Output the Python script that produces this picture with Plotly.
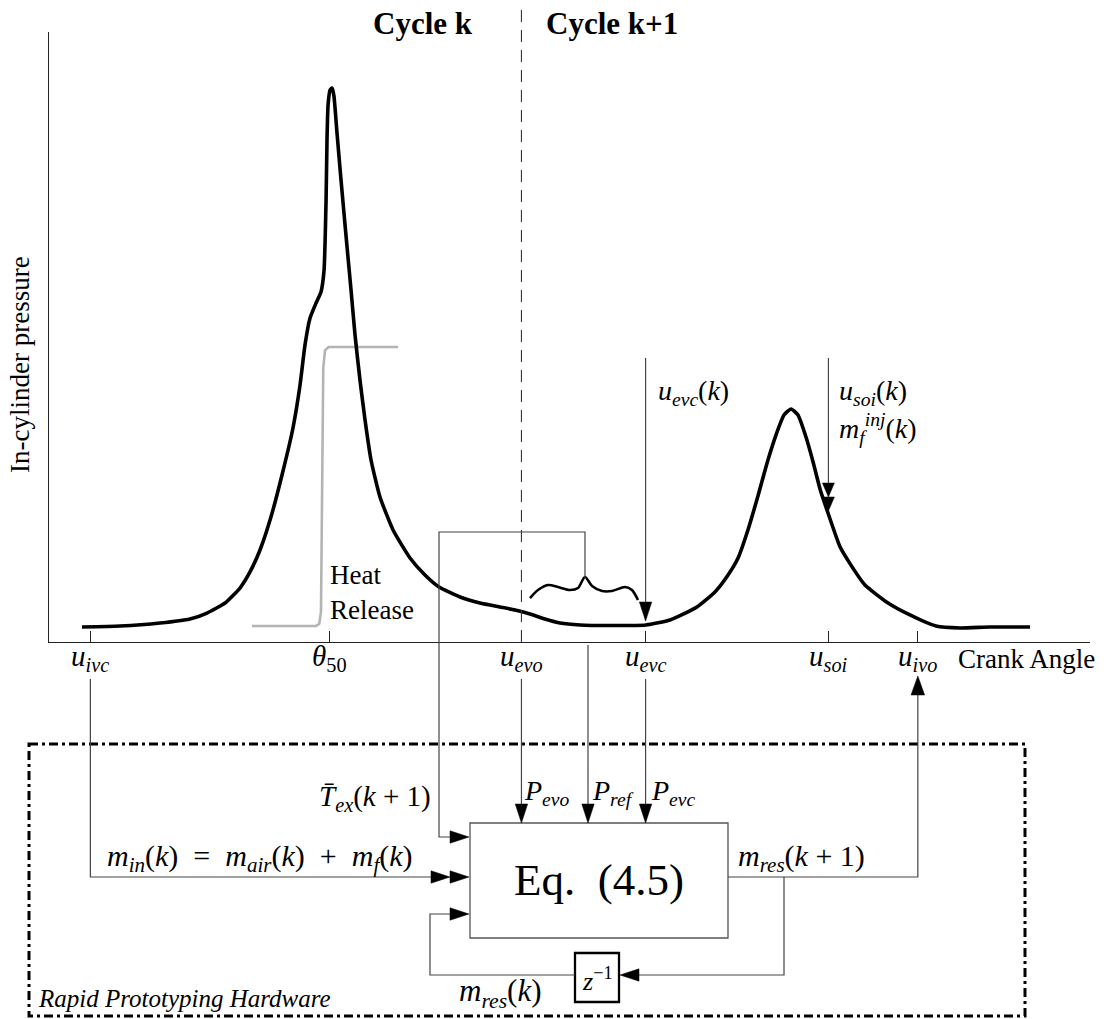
import plotly.graph_objects as go

# ---------------- data ----------------
# In-cylinder pressure trace (crank angle in deg, pressure in % of axis height)
crank_angle = [-175.3, -146.8, -116.8, -94.4, -81.6, -68.1, -56.9, -49.4, -41.9, -33.7,
               -25.4, -17.2, -11.9, -8.2, -4.4, 0.1, 3.8, 6.1, 7.6, 8.3,
               9.1, 10.6, 12.1, 13.5, 15.8, 18.8, 22.5, 26.3, 29.3, 33.0,
               36.8, 41.3, 48.0, 57.8, 70.5, 81.7, 92.2, 108.0, 122.9, 137.9,
               149.2, 160.4, 171.6, 182.9, 197.9, 220.4, 247.3, 265.3, 285.5, 299.0,
               308.8, 316.3, 323.7, 331.2, 338.7, 344.7, 350.7, 356.0, 361.2, 367.2,
               372.5, 377.8, 384.4, 392.7, 400.9, 411.4, 428.7, 445.1, 464.6, 482.6,
               505.1, 535.1]
pressure = [2.46, 2.62, 3.11, 3.77, 4.75, 6.39, 8.85, 11.48, 15.08, 20.49,
            27.38, 35.08, 42.13, 48.69, 53.11, 55.57, 57.38, 60.98, 72.46, 82.30,
            88.03, 90.49, 90.82, 89.51, 83.44, 75.74, 66.72, 57.70, 50.33, 42.95,
            36.39, 29.84, 23.77, 18.36, 13.77, 10.98, 9.02, 7.38, 6.39, 5.74,
            5.25, 4.59, 3.77, 3.11, 2.79, 2.70, 2.79, 3.61, 5.74, 8.20,
            10.98, 13.77, 18.36, 23.93, 29.84, 33.93, 37.21, 38.20, 37.21, 33.60,
            29.50, 25.00, 20.70, 15.60, 12.60, 9.34, 6.39, 4.43, 2.62, 2.30,
            2.46, 2.46]

# Heat release (grey S-curve), same axes
heat_ca = [-47.9, 0.0, 2.5, 3.8, 5.5, 6.8, 9.5, 61.5]
heat_release = [2.62, 2.62, 3.0, 5.0, 45.0, 47.8, 48.36, 48.36]

# Small brace-like curve over the exhaust phase
brace_ca = [160.4, 166.4, 173.9, 181.4, 190.4, 196.4, 201.6, 206.9, 214.4, 221.8, 231.6, 236.8, 241.3]
brace_p = [7.21, 8.52, 9.34, 9.02, 8.52, 8.85, 10.66, 9.18, 8.36, 8.36, 9.02, 8.52, 6.89]

# Crank-angle events (tick positions) and their labels
tick_ca = [-169, 10, 154, 247, 384, 451]
tick_labels = ["<i>u<sub>ivc</sub></i>", "<i>θ</i><sub>50</sub>", "<i>u<sub>evo</sub></i>",
               "<i>u<sub>evc</sub></i>", "<i>u<sub>soi</sub></i>", "<i>u<sub>ivo</sub></i>"]

CA_RANGE = [-200, 580]
P_RANGE = [0, 100]

# ---------------- layout geometry ----------------
W, H = 1117, 1019
PLOT_L, PLOT_R, PLOT_T, PLOT_B = 49, 1090, 32, 642
FONT = "'Liberation Serif', 'DejaVu Serif', 'Times New Roman', Times, serif"
LINE = "#444444"
SP = "&nbsp;"


def ca_px(ca):
    return PLOT_L + (ca - CA_RANGE[0]) * (PLOT_R - PLOT_L) / (CA_RANGE[1] - CA_RANGE[0])


fig = go.Figure()

fig.add_trace(go.Scatter(x=heat_ca, y=heat_release, xaxis="x2", yaxis="y2", mode="lines",
                         line=dict(color="#b4b4b4", width=2.6), hoverinfo="skip", showlegend=False))
fig.add_trace(go.Scatter(x=crank_angle, y=pressure, xaxis="x2", yaxis="y2", mode="lines",
                         line=dict(color="black", width=3.6, shape="spline", smoothing=0.5),
                         hoverinfo="skip", showlegend=False))
fig.add_trace(go.Scatter(x=brace_ca, y=brace_p, xaxis="x2", yaxis="y2", mode="lines",
                         line=dict(color="black", width=2.6, shape="spline", smoothing=0.8),
                         hoverinfo="skip", showlegend=False))
# dummy trace to create the pixel-space subplot
fig.add_trace(go.Scatter(x=[0], y=[0], mode="markers", marker=dict(size=0.1, opacity=0),
                         hoverinfo="skip", showlegend=False))

shapes = []
annots = []


def path(pts, color=LINE, width=1.2, dash=None):
    d = "M " + " L ".join(f"{x},{y}" for x, y in pts)
    ln = dict(color=color, width=width)
    if dash:
        ln["dash"] = dash
    shapes.append(dict(type="path", path=d, xref="x", yref="y", line=ln, layer="above"))


def head(xt, yt, direction, L=19, Wd=6.2):
    if direction == "down":
        pts = [(xt, yt), (xt - Wd, yt - L), (xt + Wd, yt - L)]
    elif direction == "up":
        pts = [(xt, yt), (xt - Wd, yt + L), (xt + Wd, yt + L)]
    elif direction == "right":
        pts = [(xt, yt), (xt - L, yt - Wd), (xt - L, yt + Wd)]
    else:
        pts = [(xt, yt), (xt + L, yt - Wd), (xt + L, yt + Wd)]
    d = "M " + " L ".join(f"{x},{y}" for x, y in pts) + " Z"
    shapes.append(dict(type="path", path=d, xref="x", yref="y", fillcolor="black",
                       line=dict(color="black", width=0.5), layer="above"))


def text(x, y, s, size=26, xanchor="center", yanchor="middle", align="left", angle=0):
    annots.append(dict(x=x, y=y, xref="x", yref="y", text=s, showarrow=False,
                       xanchor=xanchor, yanchor=yanchor, align=align, textangle=angle,
                       font=dict(family=FONT, size=size, color="black")))


x_ivc, x_th, x_evo, x_evc, x_soi, x_ivo = [ca_px(c) for c in tick_ca]
x_brace_peak = ca_px(brace_ca[6])

# tick labels of the crank-angle axis (placed just under the axis line)
for ca, lab in zip(tick_ca, tick_labels):
    text(ca_px(ca), 658, lab, size=29)

# cycle separator
shapes.append(dict(type="line", x0=x_evo, x1=x_evo, y0=10, y1=PLOT_B, xref="x", yref="y",
                   line=dict(color="#333333", width=1.1, dash="12px,8px")))

# hardware frame
shapes.append(dict(type="rect", x0=29, x1=1025, y0=744, y1=1016, xref="x", yref="y",
                   line=dict(color="black", width=3, dash="9px,4px,3px,4px")))
# Eq box
shapes.append(dict(type="rect", x0=470, x1=728, y0=823, y1=938, xref="x", yref="y",
                   line=dict(color="#555555", width=1.3)))
# z^-1 box
shapes.append(dict(type="rect", x0=575, x1=619, y0=953, y1=1002, xref="x", yref="y",
                   fillcolor="white", line=dict(color="black", width=2.3), layer="above"))

# actuation arrows onto the pressure plot
path([(x_evc, 358), (x_evc, 602)])
head(x_evc, 621, "down")
path([(x_soi, 358), (x_soi, 484)])
head(x_soi, 497, "down", L=14, Wd=6)
head(x_soi, 511, "down", L=14, Wd=6)

# signal lines into the estimator
path([(x_ivc, 679), (x_ivc, 877), (432, 877)])
head(450, 877, "right")
head(469, 877, "right")
path([(x_brace_peak, 578), (x_brace_peak, 532), (439, 532), (439, 837), (452, 837)])
head(469, 837, "right")
path([(x_evo, 679), (x_evo, 805)])
head(x_evo, 823, "down")
path([(588, 645), (588, 805)])
head(588, 823, "down")
path([(x_evc, 679), (x_evc, 805)])
head(x_evc, 823, "down")
path([(728, 877), (x_ivo, 877), (x_ivo, 695)])
head(x_ivo, 676, "up", Wd=6.8)
path([(784, 877), (784, 975), (638, 975)])
head(620, 975, "left")
path([(575, 975), (430, 975), (430, 914), (452, 914)])
head(469, 914, "right")

# texts
text(423, 23, "<b>Cycle k</b>", size=31)
text(612, 23, "<b>Cycle k+1</b>", size=31)
text(20, 365, "In-cylinder pressure", size=27, angle=-90)
text(328, 592, "Heat<br>Release", size=27, xanchor="left")
text(1026, 659, "Crank Angle", size=27)
text(656, 392, "<i>u<sub>evc</sub></i>(<i>k</i>)", size=28, xanchor="left")
text(837, 392, "<i>u<sub>soi</sub></i>(<i>k</i>)", size=28, xanchor="left")
text(837, 428, "<i>m<sub>f</sub><sup>inj</sup></i>(<i>k</i>)", size=28, xanchor="left")
text(433, 798, f"<i>T\u0304<sub>ex</sub></i>(<i>k</i>{SP}+{SP}1)", size=29, xanchor="right")
text(522, 792, "<i>P<sub>evo</sub></i>", size=28, xanchor="left")
text(590, 792, "<i>P<sub>ref</sub></i>", size=28, xanchor="left")
text(649, 792, "<i>P<sub>evc</sub></i>", size=28, xanchor="left")
text(105, 858, f"<i>m<sub>in</sub></i>(<i>k</i>){SP}{SP}={SP}{SP}<i>m<sub>air</sub></i>(<i>k</i>)"
               f"{SP}{SP}+{SP}{SP}<i>m<sub>f</sub></i>(<i>k</i>)",
     size=30, xanchor="left")
text(599, 880, "Eq.  (4.5)", size=45)
text(736, 858, f"<i>m<sub>res</sub></i>(<i>k</i>{SP}+{SP}1)", size=30, xanchor="left")
text(500, 993, "<i>m<sub>res</sub></i>(<i>k</i>)", size=31)
text(597, 979, "<i>z</i><sup>−1</sup>", size=26)
text(36, 998, "<i>Rapid Prototyping Hardware</i>", size=25, xanchor="left")

fig.update_layout(
    width=W, height=H, margin=dict(l=0, r=0, t=0, b=0),
    paper_bgcolor="white", plot_bgcolor="rgba(0,0,0,0)",
    showlegend=False, shapes=shapes, annotations=annots,
    font=dict(family=FONT),
    xaxis=dict(domain=[0, 1], range=[0, W], visible=False, fixedrange=True),
    yaxis=dict(domain=[0, 1], range=[H, 0], visible=False, fixedrange=True),
    xaxis2=dict(domain=[PLOT_L / W, PLOT_R / W], anchor="y2", range=CA_RANGE,
                showline=True, linecolor="#222222", linewidth=1.4, showgrid=False, zeroline=False,
                ticks="inside", ticklen=11, tickwidth=1.3, tickcolor="#222222",
                tickvals=tick_ca, showticklabels=False),
    yaxis2=dict(domain=[1 - PLOT_B / H, 1 - PLOT_T / H], anchor="x2", range=P_RANGE,
                showline=True, linecolor="#222222", linewidth=1.4, showgrid=False, zeroline=False,
                showticklabels=False, ticks=""),
)

fig.write_html("out.html")
